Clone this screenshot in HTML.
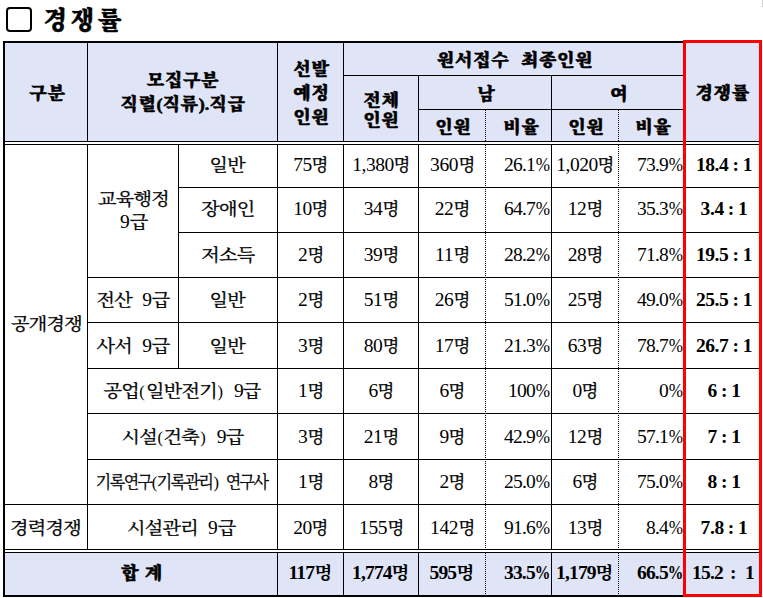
<!DOCTYPE html>
<html lang="ko"><head><meta charset="utf-8"><title>경쟁률</title><style>
html,body{margin:0;padding:0;background:#fff}
body{width:763px;height:598px;position:relative;overflow:hidden;font-family:"Liberation Serif","Noto Serif CJK SC",serif;color:#000}
body>div{position:absolute;box-sizing:content-box}
i{font-style:normal}
u{text-decoration:none;margin:0 .8px;font-weight:400}
.c{display:flex;align-items:center;text-align:center;white-space:nowrap;line-height:1.5}
.c span{display:inline-block}
.h{font-family:"Noto Serif CJK SC","Liberation Serif",serif;font-weight:900;font-size:16.5px;letter-spacing:.5px;line-height:24px;-webkit-text-stroke:.55px #000;word-spacing:2px}
.h span{transform:scaleX(1.10)}
.h span{margin-right:-.5px}
.h i{font-family:"Liberation Serif","Noto Serif CJK SC",serif;letter-spacing:0;font-weight:700}
.b{font-size:16.5px;line-height:22.7px;font-weight:400}
.b b{-webkit-text-stroke:.3px #000}
.k{word-spacing:6px}
b{display:inline-block;font-weight:inherit;transform:scaleX(1.16);letter-spacing:-.7px}
.b i{font-size:19.5px;letter-spacing:-.45px;line-height:1;font-weight:400}
.p2 i{letter-spacing:-.75px}
.n{letter-spacing:-1px;word-spacing:4px}
.pc{display:inline-block;transform:scaleX(.88);transform-origin:100% 50%;margin-left:-1.6px}
.tb .pc{transform:scaleX(.8);margin-left:-3.6px}
.r,.tb{font-family:"Liberation Serif","Noto Serif CJK SC",serif;font-weight:700;font-size:17.5px}
.r{word-spacing:-.3px}
.r i,.tb i{font-size:19.5px;letter-spacing:-1.1px;line-height:1}
.r i{letter-spacing:-.4px}
.tb i{letter-spacing:-.8px}
.tb{font-family:"Noto Serif CJK SC","Liberation Serif",serif}
.tb i{font-family:"Liberation Serif","Noto Serif CJK SC",serif}
.t{word-spacing:-.5px}
.title{font-family:"Noto Serif CJK SC","Liberation Serif",serif;font-weight:900;font-size:24.5px;letter-spacing:3.4px;display:flex;align-items:center;-webkit-text-stroke:.5px #000}
</style></head><body>
<div style="left:5px;top:43px;width:754px;height:98px;background:#dfe4f6;"></div>
<div style="left:5px;top:553px;width:754px;height:42px;background:#dfe4f6;"></div>
<div class="c h" style="left:6px;top:43px;width:82px;height:98px;justify-content:center;"><span>구분</span></div>
<div class="c h" style="left:88.5px;top:43px;width:189px;height:98px;justify-content:center;"><span>모집구분<br>직렬<i>(</i>직류<i>).</i>직급</span></div>
<div class="c h" style="left:279px;top:43px;width:65px;height:98px;justify-content:center;"><span>선발<br>예정<br>인원</span></div>
<div class="c h" style="left:345px;top:43px;width:339px;height:32px;justify-content:center;word-spacing:5px"><span>원서접수 최종인원</span></div>
<div class="c h" style="left:344px;top:76px;width:74px;height:65px;justify-content:center;line-height:20px"><span>전체<br>인원</span></div>
<div class="c h" style="left:420px;top:76px;width:132px;height:33px;justify-content:center;"><span>남</span></div>
<div class="c h" style="left:553px;top:76px;width:131px;height:33px;justify-content:center;"><span>여</span></div>
<div class="c h" style="left:420px;top:110px;width:66px;height:31px;justify-content:center;"><span>인원</span></div>
<div class="c h" style="left:488.5px;top:110px;width:65px;height:31px;justify-content:center;"><span>비율</span></div>
<div class="c h" style="left:553px;top:110px;width:66px;height:31px;justify-content:center;"><span>인원</span></div>
<div class="c h" style="left:621.5px;top:110px;width:64px;height:31px;justify-content:center;"><span>비율</span></div>
<div class="c h" style="left:686px;top:43px;width:73px;height:98px;justify-content:center;"><span>경쟁률</span></div>
<div class="c b" style="left:278.7px;top:145px;width:65px;height:42px;justify-content:center;"><span><i>75</i><b style="margin:0 0.5px;transform:scaleX(1.06);letter-spacing:0.3px">명</b></span></div>
<div class="c b" style="left:344.7px;top:145px;width:74px;height:42px;justify-content:center;"><span><i>1,380</i><b style="margin:0 0.5px;transform:scaleX(1.06);letter-spacing:0.3px">명</b></span></div>
<div class="c b" style="left:419.7px;top:145px;width:66px;height:42px;justify-content:center;"><span><i>360</i><b style="margin:0 0.5px;transform:scaleX(1.06);letter-spacing:0.3px">명</b></span></div>
<div class="c b p2" style="left:484px;top:145px;width:65px;height:42px;justify-content:flex-end;"><span><i>26.1</i><i class="pc">%</i></span></div>
<div class="c b" style="left:552.7px;top:145px;width:66px;height:42px;justify-content:center;"><span><i>1,020</i><b style="margin:0 0.5px;transform:scaleX(1.06);letter-spacing:0.3px">명</b></span></div>
<div class="c b p2" style="left:618px;top:145px;width:64px;height:42px;justify-content:flex-end;"><span><i>73.9</i><i class="pc">%</i></span></div>
<div class="c r" style="left:687.5px;top:144px;width:73px;height:42px;justify-content:center;"><span><i>18.4</i> <i>:</i> <i>1</i></span></div>
<div class="c b" style="left:278.7px;top:188.5px;width:65px;height:44.0px;justify-content:center;"><span><i>10</i><b style="margin:0 0.5px;transform:scaleX(1.06);letter-spacing:0.3px">명</b></span></div>
<div class="c b" style="left:344.7px;top:188.5px;width:74px;height:44.0px;justify-content:center;"><span><i>34</i><b style="margin:0 0.5px;transform:scaleX(1.06);letter-spacing:0.3px">명</b></span></div>
<div class="c b" style="left:419.7px;top:188.5px;width:66px;height:44.0px;justify-content:center;"><span><i>22</i><b style="margin:0 0.5px;transform:scaleX(1.06);letter-spacing:0.3px">명</b></span></div>
<div class="c b p2" style="left:484px;top:188.5px;width:65px;height:44.0px;justify-content:flex-end;"><span><i>64.7</i><i class="pc">%</i></span></div>
<div class="c b" style="left:552.7px;top:188.5px;width:66px;height:44.0px;justify-content:center;"><span><i>12</i><b style="margin:0 0.5px;transform:scaleX(1.06);letter-spacing:0.3px">명</b></span></div>
<div class="c b p2" style="left:618px;top:188.5px;width:64px;height:44.0px;justify-content:flex-end;"><span><i>35.3</i><i class="pc">%</i></span></div>
<div class="c r" style="left:687.5px;top:187.5px;width:73px;height:44.0px;justify-content:center;"><span><i>3.4</i> <i>:</i> <i>1</i></span></div>
<div class="c b" style="left:278.7px;top:234px;width:65px;height:44px;justify-content:center;"><span><i>2</i><b style="margin:0 0.5px;transform:scaleX(1.06);letter-spacing:0.3px">명</b></span></div>
<div class="c b" style="left:344.7px;top:234px;width:74px;height:44px;justify-content:center;"><span><i>39</i><b style="margin:0 0.5px;transform:scaleX(1.06);letter-spacing:0.3px">명</b></span></div>
<div class="c b" style="left:419.7px;top:234px;width:66px;height:44px;justify-content:center;"><span><i>11</i><b style="margin:0 0.5px;transform:scaleX(1.06);letter-spacing:0.3px">명</b></span></div>
<div class="c b p2" style="left:484px;top:234px;width:65px;height:44px;justify-content:flex-end;"><span><i>28.2</i><i class="pc">%</i></span></div>
<div class="c b" style="left:552.7px;top:234px;width:66px;height:44px;justify-content:center;"><span><i>28</i><b style="margin:0 0.5px;transform:scaleX(1.06);letter-spacing:0.3px">명</b></span></div>
<div class="c b p2" style="left:618px;top:234px;width:64px;height:44px;justify-content:flex-end;"><span><i>71.8</i><i class="pc">%</i></span></div>
<div class="c r" style="left:687.5px;top:233px;width:73px;height:44px;justify-content:center;"><span><i>19.5</i> <i>:</i> <i>1</i></span></div>
<div class="c b" style="left:278.7px;top:279px;width:65px;height:44px;justify-content:center;"><span><i>2</i><b style="margin:0 0.5px;transform:scaleX(1.06);letter-spacing:0.3px">명</b></span></div>
<div class="c b" style="left:344.7px;top:279px;width:74px;height:44px;justify-content:center;"><span><i>51</i><b style="margin:0 0.5px;transform:scaleX(1.06);letter-spacing:0.3px">명</b></span></div>
<div class="c b" style="left:419.7px;top:279px;width:66px;height:44px;justify-content:center;"><span><i>26</i><b style="margin:0 0.5px;transform:scaleX(1.06);letter-spacing:0.3px">명</b></span></div>
<div class="c b p2" style="left:484px;top:279px;width:65px;height:44px;justify-content:flex-end;"><span><i>51.0</i><i class="pc">%</i></span></div>
<div class="c b" style="left:552.7px;top:279px;width:66px;height:44px;justify-content:center;"><span><i>25</i><b style="margin:0 0.5px;transform:scaleX(1.06);letter-spacing:0.3px">명</b></span></div>
<div class="c b p2" style="left:618px;top:279px;width:64px;height:44px;justify-content:flex-end;"><span><i>49.0</i><i class="pc">%</i></span></div>
<div class="c r" style="left:687.5px;top:278px;width:73px;height:44px;justify-content:center;"><span><i>25.5</i> <i>:</i> <i>1</i></span></div>
<div class="c b" style="left:278.7px;top:324.5px;width:65px;height:45.0px;justify-content:center;"><span><i>3</i><b style="margin:0 0.5px;transform:scaleX(1.06);letter-spacing:0.3px">명</b></span></div>
<div class="c b" style="left:344.7px;top:324.5px;width:74px;height:45.0px;justify-content:center;"><span><i>80</i><b style="margin:0 0.5px;transform:scaleX(1.06);letter-spacing:0.3px">명</b></span></div>
<div class="c b" style="left:419.7px;top:324.5px;width:66px;height:45.0px;justify-content:center;"><span><i>17</i><b style="margin:0 0.5px;transform:scaleX(1.06);letter-spacing:0.3px">명</b></span></div>
<div class="c b p2" style="left:484px;top:324.5px;width:65px;height:45.0px;justify-content:flex-end;"><span><i>21.3</i><i class="pc">%</i></span></div>
<div class="c b" style="left:552.7px;top:324.5px;width:66px;height:45.0px;justify-content:center;"><span><i>63</i><b style="margin:0 0.5px;transform:scaleX(1.06);letter-spacing:0.3px">명</b></span></div>
<div class="c b p2" style="left:618px;top:324.5px;width:64px;height:45.0px;justify-content:flex-end;"><span><i>78.7</i><i class="pc">%</i></span></div>
<div class="c r" style="left:687.5px;top:323.5px;width:73px;height:45.0px;justify-content:center;"><span><i>26.7</i> <i>:</i> <i>1</i></span></div>
<div class="c b" style="left:278.7px;top:370.5px;width:65px;height:44.0px;justify-content:center;"><span><i>1</i><b style="margin:0 0.5px;transform:scaleX(1.06);letter-spacing:0.3px">명</b></span></div>
<div class="c b" style="left:344.7px;top:370.5px;width:74px;height:44.0px;justify-content:center;"><span><i>6</i><b style="margin:0 0.5px;transform:scaleX(1.06);letter-spacing:0.3px">명</b></span></div>
<div class="c b" style="left:419.7px;top:370.5px;width:66px;height:44.0px;justify-content:center;"><span><i>6</i><b style="margin:0 0.5px;transform:scaleX(1.06);letter-spacing:0.3px">명</b></span></div>
<div class="c b p2" style="left:484px;top:370.5px;width:65px;height:44.0px;justify-content:flex-end;"><span><i>100</i><i class="pc">%</i></span></div>
<div class="c b" style="left:552.7px;top:370.5px;width:66px;height:44.0px;justify-content:center;"><span><i>0</i><b style="margin:0 0.5px;transform:scaleX(1.06);letter-spacing:0.3px">명</b></span></div>
<div class="c b p2" style="left:618px;top:370.5px;width:64px;height:44.0px;justify-content:flex-end;"><span><i>0</i><i class="pc">%</i></span></div>
<div class="c r" style="left:687.5px;top:369.5px;width:73px;height:44.0px;justify-content:center;"><span><i>6</i> <i>:</i> <i>1</i></span></div>
<div class="c b" style="left:278.7px;top:415.5px;width:65px;height:45.0px;justify-content:center;"><span><i>3</i><b style="margin:0 0.5px;transform:scaleX(1.06);letter-spacing:0.3px">명</b></span></div>
<div class="c b" style="left:344.7px;top:415.5px;width:74px;height:45.0px;justify-content:center;"><span><i>21</i><b style="margin:0 0.5px;transform:scaleX(1.06);letter-spacing:0.3px">명</b></span></div>
<div class="c b" style="left:419.7px;top:415.5px;width:66px;height:45.0px;justify-content:center;"><span><i>9</i><b style="margin:0 0.5px;transform:scaleX(1.06);letter-spacing:0.3px">명</b></span></div>
<div class="c b p2" style="left:484px;top:415.5px;width:65px;height:45.0px;justify-content:flex-end;"><span><i>42.9</i><i class="pc">%</i></span></div>
<div class="c b" style="left:552.7px;top:415.5px;width:66px;height:45.0px;justify-content:center;"><span><i>12</i><b style="margin:0 0.5px;transform:scaleX(1.06);letter-spacing:0.3px">명</b></span></div>
<div class="c b p2" style="left:618px;top:415.5px;width:64px;height:45.0px;justify-content:flex-end;"><span><i>57.1</i><i class="pc">%</i></span></div>
<div class="c r" style="left:687.5px;top:414.5px;width:73px;height:45.0px;justify-content:center;"><span><i>7</i> <i>:</i> <i>1</i></span></div>
<div class="c b" style="left:278.7px;top:461.5px;width:65px;height:44.0px;justify-content:center;"><span><i>1</i><b style="margin:0 0.5px;transform:scaleX(1.06);letter-spacing:0.3px">명</b></span></div>
<div class="c b" style="left:344.7px;top:461.5px;width:74px;height:44.0px;justify-content:center;"><span><i>8</i><b style="margin:0 0.5px;transform:scaleX(1.06);letter-spacing:0.3px">명</b></span></div>
<div class="c b" style="left:419.7px;top:461.5px;width:66px;height:44.0px;justify-content:center;"><span><i>2</i><b style="margin:0 0.5px;transform:scaleX(1.06);letter-spacing:0.3px">명</b></span></div>
<div class="c b p2" style="left:484px;top:461.5px;width:65px;height:44.0px;justify-content:flex-end;"><span><i>25.0</i><i class="pc">%</i></span></div>
<div class="c b" style="left:552.7px;top:461.5px;width:66px;height:44.0px;justify-content:center;"><span><i>6</i><b style="margin:0 0.5px;transform:scaleX(1.06);letter-spacing:0.3px">명</b></span></div>
<div class="c b p2" style="left:618px;top:461.5px;width:64px;height:44.0px;justify-content:flex-end;"><span><i>75.0</i><i class="pc">%</i></span></div>
<div class="c r" style="left:687.5px;top:460.5px;width:73px;height:44.0px;justify-content:center;"><span><i>8</i> <i>:</i> <i>1</i></span></div>
<div class="c b" style="left:278.7px;top:507px;width:65px;height:44px;justify-content:center;"><span><i>20</i><b style="margin:0 0.5px;transform:scaleX(1.06);letter-spacing:0.3px">명</b></span></div>
<div class="c b" style="left:344.7px;top:507px;width:74px;height:44px;justify-content:center;"><span><i>155</i><b style="margin:0 0.5px;transform:scaleX(1.06);letter-spacing:0.3px">명</b></span></div>
<div class="c b" style="left:419.7px;top:507px;width:66px;height:44px;justify-content:center;"><span><i>142</i><b style="margin:0 0.5px;transform:scaleX(1.06);letter-spacing:0.3px">명</b></span></div>
<div class="c b p2" style="left:484px;top:507px;width:65px;height:44px;justify-content:flex-end;"><span><i>91.6</i><i class="pc">%</i></span></div>
<div class="c b" style="left:552.7px;top:507px;width:66px;height:44px;justify-content:center;"><span><i>13</i><b style="margin:0 0.5px;transform:scaleX(1.06);letter-spacing:0.3px">명</b></span></div>
<div class="c b p2" style="left:618px;top:507px;width:64px;height:44px;justify-content:flex-end;"><span><i>8.4</i><i class="pc">%</i></span></div>
<div class="c r" style="left:687.5px;top:506px;width:73px;height:44px;justify-content:center;"><span><i>7.8</i> <i>:</i> <i>1</i></span></div>
<div class="c b k" style="left:5px;top:146px;width:82px;height:359px;justify-content:center;"><span><b style="margin:0 5.06px">공개경쟁</b></span></div>
<div class="c b k" style="left:4px;top:507px;width:82px;height:44px;justify-content:center;"><span><b style="margin:0 5.06px">경력경쟁</b></span></div>
<div class="c b k" style="left:88.5px;top:145.5px;width:90px;height:132px;justify-content:center;"><span><b style="margin:0 5.06px">교육행정</b><br><i>9</i><b style="margin:0 1.26px">급</b></span></div>
<div class="c b k" style="left:178.5px;top:145px;width:98px;height:42px;justify-content:center;"><span><b style="margin:0 2.53px">일반</b></span></div>
<div class="c b k" style="left:178.5px;top:188.5px;width:98px;height:44px;justify-content:center;"><span><b style="margin:0 3.79px">장애인</b></span></div>
<div class="c b k" style="left:178.5px;top:234px;width:98px;height:44px;justify-content:center;"><span><b style="margin:0 3.79px">저소득</b></span></div>
<div class="c b k" style="left:88px;top:279px;width:90px;height:44px;justify-content:center;"><span><b style="margin:0 2.53px">전산</b> <i>9</i><b style="margin:0 1.26px">급</b></span></div>
<div class="c b k" style="left:178.5px;top:279px;width:98px;height:44px;justify-content:center;"><span><b style="margin:0 2.53px">일반</b></span></div>
<div class="c b k" style="left:88px;top:324.5px;width:90px;height:45px;justify-content:center;"><span><b style="margin:0 2.53px">사서</b> <i>9</i><b style="margin:0 1.26px">급</b></span></div>
<div class="c b k" style="left:178.5px;top:324.5px;width:98px;height:45px;justify-content:center;"><span><b style="margin:0 2.53px">일반</b></span></div>
<div class="c b k" style="left:87.5px;top:370.5px;width:189px;height:44px;justify-content:center;"><span><b style="margin:0 2.53px">공업</b><u>(</u><b style="margin:0 5.06px">일반전기</b><u>)</u> <i>9</i><b style="margin:0 1.26px">급</b></span></div>
<div class="c b k" style="left:88px;top:415.5px;width:189px;height:45px;justify-content:center;"><span><b style="margin:0 2.53px">시설</b><u>(</u><b style="margin:0 2.53px">건축</b><u>)</u> <i>9</i><b style="margin:0 1.26px">급</b></span></div>
<div class="c b k n" style="left:87px;top:461.5px;width:189px;height:44px;justify-content:center;"><span><b style="margin:0 -0.89px;transform:scaleX(0.97);letter-spacing:-1.6px">기록연구</b><u>(</u><b style="margin:0 -0.89px;transform:scaleX(0.97);letter-spacing:-1.6px">기록관리</b><u>)</u> <b style="margin:0 -0.67px;transform:scaleX(0.97);letter-spacing:-1.6px">연구사</b></span></div>
<div class="c b k" style="left:86.5px;top:507px;width:189px;height:44px;justify-content:center;"><span><b style="margin:0 5.06px">시설관리</b> <i>9</i><b style="margin:0 1.26px">급</b></span></div>
<div class="c h t" style="left:6px;top:551px;width:272px;height:42px;justify-content:center;"><span>합 계</span></div>
<div class="c tb" style="left:278px;top:551px;width:65px;height:42px;justify-content:center;"><span><i>117</i><b style="margin:0 0.5px;transform:scaleX(1.06);letter-spacing:0.3px">명</b></span></div>
<div class="c tb" style="left:344px;top:551px;width:74px;height:42px;justify-content:center;"><span><i>1,774</i><b style="margin:0 0.5px;transform:scaleX(1.06);letter-spacing:0.3px">명</b></span></div>
<div class="c tb" style="left:419px;top:551px;width:66px;height:42px;justify-content:center;"><span><i>595</i><b style="margin:0 0.5px;transform:scaleX(1.06);letter-spacing:0.3px">명</b></span></div>
<div class="c tb" style="left:485px;top:551px;width:65px;height:42px;justify-content:flex-end;"><span><i>33.5</i><i class="pc">%</i></span></div>
<div class="c tb" style="left:552px;top:551px;width:66px;height:42px;justify-content:center;"><span><i>1,179</i><b style="margin:0 0.5px;transform:scaleX(1.06);letter-spacing:0.3px">명</b></span></div>
<div class="c tb" style="left:619px;top:551px;width:64px;height:42px;justify-content:flex-end;"><span><i>66.5</i><i class="pc">%</i></span></div>
<div class="c tb" style="left:686.5px;top:551px;width:73px;height:42px;justify-content:center;"><span><i>15.2</i> <i style="margin:0 -1.5px 0 1.5px">:</i>&nbsp; <i>1</i></span></div>
<div style="left:3px;top:41px;width:2px;height:556px;background:#000;"></div>
<div style="left:3px;top:41px;width:683px;height:2px;background:#000;"></div>
<div style="left:3px;top:595px;width:683px;height:2px;background:#000;"></div>
<div style="left:344px;top:75px;width:340px;height:1px;background:#000;"></div>
<div style="left:419px;top:109px;width:265px;height:1px;background:#000;"></div>
<div style="left:5px;top:141px;width:679px;height:1px;background:#000;"></div>
<div style="left:5px;top:144px;width:755px;height:1px;background:#000;"></div>
<div style="left:685px;top:141px;width:75px;height:1px;background:#000;"></div>
<div style="left:87px;top:43px;width:1px;height:98px;background:#000;"></div>
<div style="left:277px;top:43px;width:1px;height:98px;background:#000;"></div>
<div style="left:343px;top:43px;width:1px;height:98px;background:#000;"></div>
<div style="left:418px;top:76px;width:1px;height:65px;background:#000;"></div>
<div style="left:551px;top:76px;width:1px;height:65px;background:#000;"></div>
<div style="left:485px;top:110px;width:1px;height:31px;background:repeating-linear-gradient(to bottom,#000 0,#000 1px,transparent 1px,transparent 2px)"></div>
<div style="left:618px;top:110px;width:1px;height:31px;background:repeating-linear-gradient(to bottom,#000 0,#000 1px,transparent 1px,transparent 2px)"></div>
<div style="left:87px;top:145px;width:1px;height:404px;background:#000;"></div>
<div style="left:178px;top:145px;width:1px;height:223px;background:#000;"></div>
<div style="left:277px;top:145px;width:1px;height:404px;background:#000;"></div>
<div style="left:343px;top:145px;width:1px;height:404px;background:#000;"></div>
<div style="left:418px;top:145px;width:1px;height:404px;background:#000;"></div>
<div style="left:551px;top:145px;width:1px;height:404px;background:#000;"></div>
<div style="left:485px;top:145px;width:1px;height:404px;background:repeating-linear-gradient(to bottom,#000 0,#000 1px,transparent 1px,transparent 2px)"></div>
<div style="left:618px;top:145px;width:1px;height:404px;background:repeating-linear-gradient(to bottom,#000 0,#000 1px,transparent 1px,transparent 2px)"></div>
<div style="left:277px;top:553px;width:1px;height:42px;background:#000;"></div>
<div style="left:343px;top:553px;width:1px;height:42px;background:#000;"></div>
<div style="left:418px;top:553px;width:1px;height:42px;background:#000;"></div>
<div style="left:551px;top:553px;width:1px;height:42px;background:#000;"></div>
<div style="left:485px;top:553px;width:1px;height:42px;background:repeating-linear-gradient(to bottom,#000 0,#000 1px,transparent 1px,transparent 2px)"></div>
<div style="left:618px;top:553px;width:1px;height:42px;background:repeating-linear-gradient(to bottom,#000 0,#000 1px,transparent 1px,transparent 2px)"></div>
<div style="left:178px;top:187px;width:582px;height:1px;background:#000;"></div>
<div style="left:178px;top:232px;width:582px;height:1px;background:#000;"></div>
<div style="left:87px;top:277px;width:673px;height:1px;background:#000;"></div>
<div style="left:87px;top:322px;width:673px;height:1px;background:#000;"></div>
<div style="left:87px;top:368px;width:673px;height:1px;background:#000;"></div>
<div style="left:87px;top:413px;width:673px;height:1px;background:#000;"></div>
<div style="left:87px;top:459px;width:673px;height:1px;background:#000;"></div>
<div style="left:5px;top:504px;width:755px;height:1px;background:#000;"></div>
<div style="left:5px;top:549px;width:755px;height:1px;background:#000;"></div>
<div style="left:5px;top:552px;width:755px;height:1px;background:#000;"></div>
<div style="left:683px;top:40px;width:73px;height:551px;border:3px solid #fe0000;background:transparent"></div>
<div style="left:762px;top:0px;width:1px;height:7px;background:#d0d0d0;"></div>
<div style="left:6px;top:7px;width:22px;height:21px;border:2px solid #000;border-radius:4px;background:#fff"></div>
<div class="title" style="left:43.5px;top:-2px;height:40px;white-space:nowrap"><span>경쟁률</span></div>
</body></html>
